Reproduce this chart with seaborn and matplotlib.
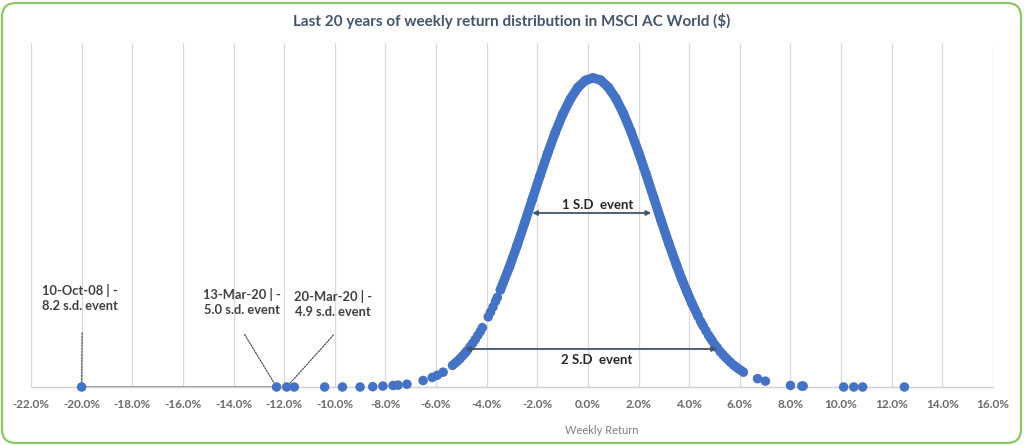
import matplotlib
matplotlib.use("Agg")
import matplotlib.pyplot as plt
import seaborn as sns
import pandas as pd
import numpy as np
from matplotlib.patches import FancyBboxPatch
from matplotlib.transforms import IdentityTransform

# weekly returns (%) and their height on the fitted normal curve (peak = 1)
# dense middle of the distribution
core_x = [-3.46, -3.1, -2.8, -2.5, -2.2, -1.9, -1.6, -1.3, -1.0, -0.7, -0.4, -0.1,
          0.2, 0.5, 0.8, 1.1, 1.4, 1.7, 2.0, 2.3, 2.6, 2.9, 3.2, 3.5, 3.7, 3.9, 4.1, 4.35]
core_h = [0.314, 0.389, 0.458, 0.531, 0.607, 0.682, 0.754, 0.822, 0.882, 0.931, 0.969, 0.992,
          1.000, 0.993, 0.970, 0.934, 0.885, 0.826, 0.759, 0.687, 0.612, 0.536, 0.463, 0.394, 0.350, 0.310, 0.272, 0.229]

# individual weeks in the tails
tail_x = [-20.0, -12.3, -11.9, -11.6, -10.4, -9.7, -9.0, -8.5, -8.1, -7.7, -7.5, -7.15,
          -6.51, -6.15, -5.95, -5.72, -5.35, -5.25, -5.15, -5.05, -4.95, -4.85, -4.77,
          -4.65, -4.55, -4.45, -4.35, -4.25, -4.17, -3.94, -3.85, -3.75, -3.65, -3.58,
          4.44, 4.5, 4.56, 4.66, 4.76, 4.84, 4.92, 5.02, 5.11, 5.23, 5.33, 5.43, 5.53, 5.63,
          5.75, 5.85, 5.94, 6.04, 6.14, 6.70, 7.01, 8.0, 8.45, 8.5, 10.1, 10.5, 10.85, 12.5]
tail_h = [0.0, 0.0, 0.0, 0.0, 0.0, 0.0, 0.0, 0.001, 0.003, 0.005, 0.006, 0.009,
          0.021, 0.031, 0.038, 0.048, 0.070, 0.077, 0.084, 0.092, 0.101, 0.110, 0.118,
          0.131, 0.142, 0.154, 0.167, 0.180, 0.192, 0.227, 0.242, 0.259, 0.277, 0.290,
          0.214, 0.205, 0.196, 0.182, 0.168, 0.158, 0.148, 0.136, 0.127, 0.114, 0.105, 0.096, 0.088, 0.080,
          0.071, 0.065, 0.059, 0.054, 0.048, 0.027, 0.019, 0.005, 0.003, 0.003, 0.0, 0.0, 0.0, 0.0]

# labelled extreme weeks
event_x = [-20.0, -12.3, -11.9]
event_labels = ["10-Oct-08 | -\n8.2 s.d. event",
                "13-Mar-20 | -\n5.0 s.d. event",
                "20-Mar-20 | -\n4.9 s.d. event"]
ticks = list(range(-22, 17, 2))

core = pd.DataFrame({"ret": core_x, "h": core_h})
weeks = pd.DataFrame({"ret": core_x + tail_x, "h": core_h + tail_h})

sns.set_theme(style="white")
plt.rcParams["font.family"] = ["Lato", "DejaVu Sans"]

blue = "#4472C4"
fig = plt.figure(figsize=(10.24, 4.45), dpi=100)
ax = fig.add_axes([31 / 1024, 58 / 445, 962 / 1024, 344 / 445])

for t in ticks:
    ax.axvline(t, color="#D9D9D9", lw=0.9, zorder=0)

sns.lineplot(data=core, x="ret", y="h", ax=ax, color=blue, lw=6.8,
             solid_capstyle="round", zorder=3)
sns.scatterplot(data=weeks, x="ret", y="h", ax=ax, color=blue, s=47,
                edgecolor="none", linewidth=0, clip_on=False, zorder=4)

# connector along the base between the two worst weeks
ax.plot([event_x[0], event_x[1]], [0, 0], color="#808080", lw=1.1, zorder=2)

ax.set_xlim(-22, 16)
ax.set_ylim(0, 1.113)
ax.set_xticks(ticks)
ax.set_xticklabels([f"{t:.1f}%" for t in ticks], fontsize=8.5, color="#6A6A6A",
                   fontweight="bold")
ax.set_yticks([])
ax.tick_params(axis="x", length=0, pad=9)
ax.set_xlabel("")
ax.set_ylabel("")
for s in ["top", "left", "right"]:
    ax.spines[s].set_visible(False)
ax.spines["bottom"].set_color("#D0D0D0")
ax.spines["bottom"].set_linewidth(1.0)

# event call-outs
txt_pos = [(-20.06, 0.288), (-13.66, 0.275), (-10.06, 0.267)]
line_top = [(-19.98, 0.184), (-13.62, 0.178), (-9.98, 0.175)]
for ex, lab, tp, lt in zip(event_x, event_labels, txt_pos, line_top):
    ax.text(tp[0], tp[1], lab, ha="center", va="center", fontsize=9.3,
            color="#404040", fontweight="bold", linespacing=1.3)
    ax.annotate("", xy=(ex, 0.0), xytext=lt,
                arrowprops=dict(arrowstyle="-", ls=(0, (1.5, 1.2)), color="#404040", lw=0.8))

# standard deviation arrows
arrow = dict(arrowstyle="<|-|>", color="#44546A", lw=1.3, mutation_scale=7,
             shrinkA=0, shrinkB=0)
ax.annotate("", xy=(-2.2, 0.563), xytext=(2.5, 0.563), arrowprops=arrow, zorder=5)
ax.text(0.37, 0.588, "1 S.D  event", ha="center", va="center", fontsize=9.5,
        color="#262626", fontweight="bold", zorder=6)
ax.annotate("", xy=(-4.85, 0.123), xytext=(5.1, 0.123), arrowprops=arrow, zorder=5)
ax.text(0.33, 0.087, "2 S.D  event", ha="center", va="center", fontsize=9.5,
        color="#262626", fontweight="bold", zorder=6)

fig.text(0.5, 1 - 21 / 445, "Last 20 years of weekly return distribution in MSCI AC World ($)",
         ha="center", va="center", fontsize=11, color="#44546A", fontweight="bold")
fig.text(602 / 1024, 1 - 430 / 445, "Weekly Return", ha="center", va="center",
         fontsize=8, color="#7F7F7F")

# rounded green frame
frame = FancyBboxPatch((2, 2), 1019, 440, boxstyle="round,pad=0,rounding_size=14",
                       transform=IdentityTransform(), facecolor="none",
                       edgecolor="#8CC866", lw=1.6)
fig.patches.append(frame)

fig.savefig("out.png", dpi=100)
